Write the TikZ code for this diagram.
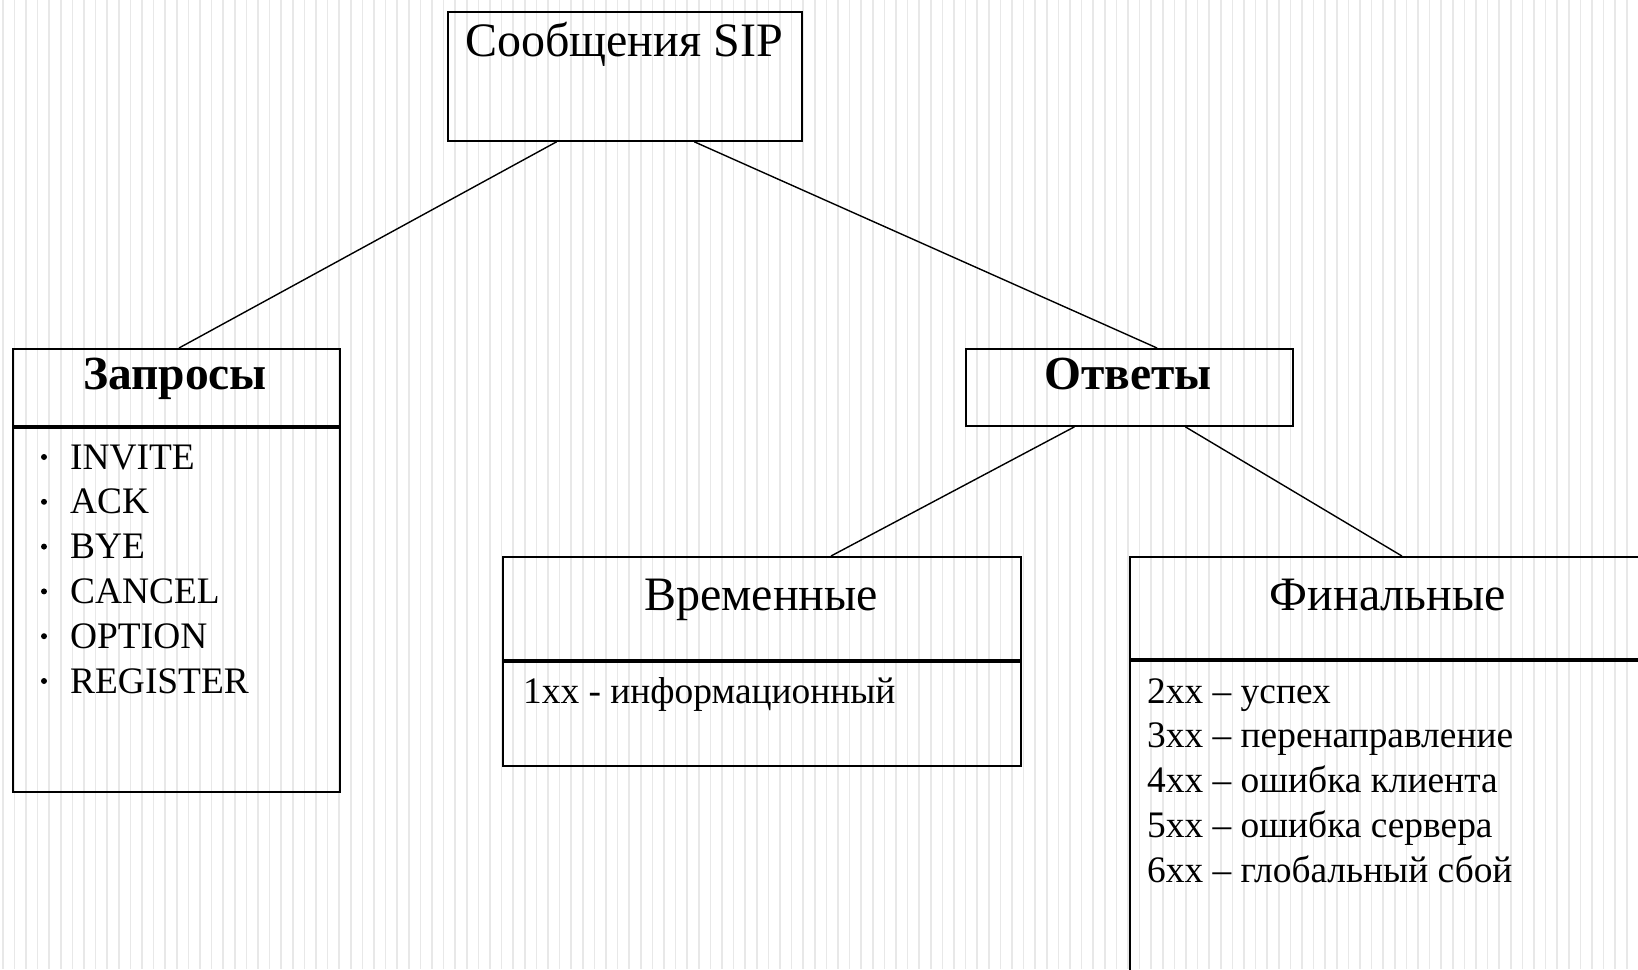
\documentclass[tikz,border=0pt]{standalone}
\usepackage{fontspec}
\setmainfont{Liberation Serif}
\usetikzlibrary{calc}

\tikzset{
  stripe/.style={draw=black!9, line width=1.6pt},
  box/.style={draw, line width=1.8pt, inner sep=0pt, anchor=north west},
  link/.style={line width=1.4pt},
  headtext/.style={anchor=base, inner sep=0pt, font=\fontsize{48}{54}\selectfont},
  boldtext/.style={anchor=base, inner sep=0pt, font=\fontsize{47.5}{54}\selectfont\bfseries},
  itemtext/.style={anchor=base west, inner sep=0pt, font=\fontsize{37.4}{44}\selectfont}
}

\begin{document}
\begin{tikzpicture}[x=1pt, y=-1pt]
  \clip (0,0) rectangle (1638,969);
  \fill[white] (0,0) rectangle (1638,969);
  \foreach \x in {2.7,14.3,...,1640} \draw[stripe] (\x,0) -- (\x,969);

  % boxes
  \node[box, minimum width=354pt, minimum height=129pt] (sip) at (447,11) {};
  \node[box, minimum width=327pt, minimum height=77pt] (zapHead) at (12,348) {};
  \node[box, minimum width=327pt, minimum height=364pt] (zapBody) at (zapHead.south west) {};
  \node[box, minimum width=327pt, minimum height=77pt] (otv) at (965,348) {};
  \node[box, minimum width=518pt, minimum height=103pt] (vremHead) at (502,556) {};
  \node[box, minimum width=518pt, minimum height=104pt] (vremBody) at (vremHead.south west) {};
  \node[box, minimum width=518pt, minimum height=102pt] (finHead) at (1129,556) {};
  \node[box, minimum width=518pt, minimum height=400pt] (finBody) at (finHead.south west) {};

  % titles
  \node[headtext] (sipText) at (624,56) {Сообщения SIP};
  \node[boldtext] (zapText) at (175,389) {Запросы};
  \node[boldtext] (otvText) at (1128,389) {Ответы};
  \node[headtext] (vremText) at (761,610) {Временные};
  \node[headtext] (finText) at (1388,610) {Финальные};

  % requests
  \foreach \txt [count=\i] in {INVITE, ACK, BYE, CANCEL, OPTION, REGISTER} {
    \node[itemtext] (req\i) at (70,{469+44.8*(\i-1)}) {\txt};
    \fill ($(req\i.base west)+(-26,-12)$) circle (3pt);
  }

  % responses
  \node[itemtext] (info) at (523,703) {1xx - информационный};
  \foreach \txt [count=\i] in {2xx – успех, 3xx – перенаправление,
      4xx – ошибка клиента, 5xx – ошибка сервера, 6xx – глобальный сбой}
    \node[itemtext] (fin\i) at (1147,{703+44.8*(\i-1)}) {\txt};

  % links
  \draw[link] ($(sip.south west)!.308!(sip.south east)$) -- ($(zapHead.north west)!.508!(zapHead.north east)$);
  \draw[link] ($(sip.south west)!.695!(sip.south east)$) -- ($(otv.north west)!.584!(otv.north east)$);
  \draw[link] ($(otv.south west)!.333!(otv.south east)$) -- ($(vremHead.north west)!.633!(vremHead.north east)$);
  \draw[link] ($(otv.south west)!.670!(otv.south east)$) -- ($(finHead.north west)!.525!(finHead.north east)$);
\end{tikzpicture}
\end{document}
